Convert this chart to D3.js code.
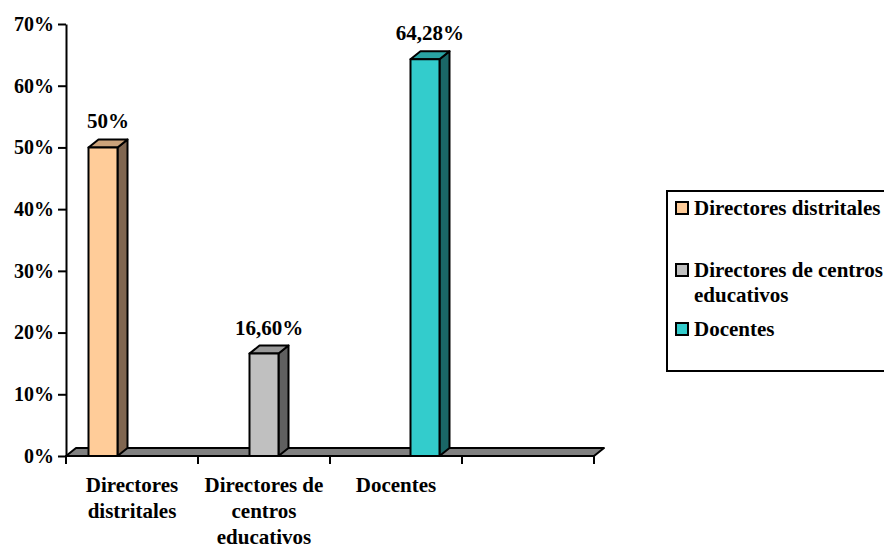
<!DOCTYPE html>
<html>
<head>
<meta charset="utf-8">
<script src="https://cdn.jsdelivr.net/npm/d3@7"></script>
<style>
  html, body { margin: 0; padding: 0; background: #fff; }
  svg { display: block; }
</style>
</head>
<body>
<svg id="chart" width="884" height="546"></svg>
<script>
// Category slots along the floor (the last one is left empty)
const categories = ["Directores distritales", "Directores de centros educativos", "Docentes", ""];
// One series per group of respondents
const seriesNames = ["Directores distritales", "Directores de centros educativos", "Docentes"];
const seriesValues = [50, 16.6, 64.28];
const valueLabels = ["50%", "16,60%", "64,28%"];
const yTicks = [0, 10, 20, 30, 40, 50, 60, 70];

const frontColors = ["#FFCC99", "#C0C0C0", "#33CCCC"];
const sideColors  = ["#806650", "#606060", "#1A6666"];
const topColors   = ["#CCA37A", "#999999", "#29A3A3"];

const FONT = "Liberation Serif";
const svg = d3.select("#chart");
const plotLeft = 66, plotRight = 594, plotTop = 24, plotBottom = 456;
const dx = 10, dy = 8;           // 3-D depth offset

// Serif bold text helper
function styleText(sel, size) {
  return sel.style("font-family", FONT).style("font-weight", "bold")
    .style("font-size", size + "px").style("fill", "#000");
}

const y = d3.scaleLinear().domain([0, 70]).range([plotBottom, plotTop]);
const x = d3.scaleBand().domain(categories).range([plotLeft, plotRight]).padding(0);
const inner = d3.scaleBand().domain(seriesNames).range([0, x.bandwidth()])
  .paddingInner(0).paddingOuter(0.776);

// Floor
svg.append("polygon")
  .attr("points", [[plotLeft, plotBottom], [plotRight, plotBottom], [plotRight + dx, plotBottom - dy], [plotLeft + dx, plotBottom - dy]].join(" "))
  .attr("fill", "#808080").attr("stroke", "#000").attr("stroke-width", 2)
  .attr("stroke-linejoin", "round");

// Y axis
const yAxis = d3.axisLeft(y).tickValues(yTicks).tickFormat(d => d + "%")
  .tickSize(8).tickSizeOuter(0).tickPadding(4);
const gy = svg.append("g").attr("transform", `translate(${plotLeft},0)`).call(yAxis);
gy.select(".domain").attr("stroke", "#000").attr("stroke-width", 2);
gy.selectAll(".tick line").attr("stroke", "#000").attr("stroke-width", 2);
styleText(gy.selectAll(".tick text"), 20);

// X axis ticks at category boundaries
const bounds = categories.map(c => x(c)).concat([plotRight]);
svg.append("g").selectAll("line").data(bounds).join("line")
  .attr("x1", d => d).attr("x2", d => d)
  .attr("y1", plotBottom).attr("y2", plotBottom + 8)
  .attr("stroke", "#000").attr("stroke-width", 2);

// Wrap words onto lines no wider than maxWidth
function wrapLines(textSel, words, maxWidth) {
  const lines = [];
  let cur = [];
  const probe = textSel.append("tspan");
  words.forEach(w => {
    const test = cur.concat([w]).join(" ");
    probe.text(test);
    if (cur.length && probe.node().getComputedTextLength() > maxWidth) {
      lines.push(cur.join(" "));
      cur = [w];
    } else {
      cur.push(w);
    }
  });
  if (cur.length) lines.push(cur.join(" "));
  probe.remove();
  return lines;
}

// Category labels
const catG = svg.append("g");
categories.forEach(c => {
  if (!c) return;
  const t = styleText(catG.append("text").attr("text-anchor", "middle"), 21);
  const cx = x(c) + x.bandwidth() / 2;
  const lines = wrapLines(t, c.split(" "), 125);
  lines.forEach((ln, i) => {
    t.append("tspan").attr("x", cx).attr("y", plotBottom + 36 + i * 26).text(ln);
  });
});

// Bars (side, top and front faces)
const bars = svg.append("g");
seriesNames.forEach((s, i) => {
  const cat = categories[i];
  const x0 = x(cat) + inner(s);
  const w = inner.bandwidth();
  const yv = y(seriesValues[i]);
  const g = bars.append("g")
    .attr("stroke", "#000").attr("stroke-width", 2).attr("stroke-linejoin", "round");
  g.append("polygon")
    .attr("points", [[x0 + w, plotBottom], [x0 + w + dx, plotBottom - dy], [x0 + w + dx, yv - dy], [x0 + w, yv]].join(" "))
    .attr("fill", sideColors[i]);
  g.append("polygon")
    .attr("points", [[x0, yv], [x0 + dx, yv - dy], [x0 + w + dx, yv - dy], [x0 + w, yv]].join(" "))
    .attr("fill", topColors[i]);
  g.append("rect")
    .attr("x", x0).attr("y", yv).attr("width", w).attr("height", plotBottom - yv)
    .attr("fill", frontColors[i]);
  styleText(svg.append("text"), 21)
    .attr("x", x0 + w / 2 + dx / 2)
    .attr("y", yv - 19)
    .attr("text-anchor", "middle")
    .text(valueLabels[i]);
});

// Legend
const legX = 667, legY = 191, legH = 180;
svg.append("rect")
  .attr("x", legX).attr("y", legY).attr("width", 260).attr("height", legH)
  .attr("fill", "#fff").attr("stroke", "#000").attr("stroke-width", 2);

const rowBaselines = [legY + 24, legY + 86, legY + 145];
seriesNames.forEach((s, i) => {
  const by = rowBaselines[i];
  svg.append("rect")
    .attr("x", legX + 9).attr("y", by - 13).attr("width", 12).attr("height", 12)
    .attr("fill", frontColors[i]).attr("stroke", "#000").attr("stroke-width", 2);
  const t = styleText(svg.append("text"), 21);
  const lines = wrapLines(t, s.split(" "), 196);
  lines.forEach((ln, k) => {
    t.append("tspan").attr("x", legX + 27).attr("y", by + k * 25).text(ln);
  });
});
</script>
</body>
</html>
